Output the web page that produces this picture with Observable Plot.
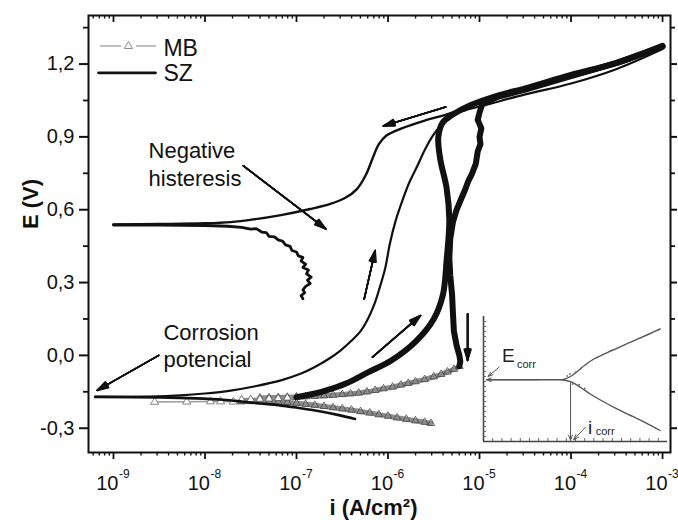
<!DOCTYPE html>
<html><head><meta charset="utf-8">
<script src="https://cdn.jsdelivr.net/npm/d3@7"></script>
<script src="https://cdn.jsdelivr.net/npm/@observablehq/plot@0.6"></script>
<style>
body{margin:0;background:#fff;}
#wrap{position:relative;width:678px;height:520px;overflow:hidden;}
</style></head><body><div id="wrap"></div>
<script>
// ---- data: [log10(i / A·cm^-2), E / V] ----
const szCath = [[-6.36,-0.262],[-6.55,-0.245],[-6.81,-0.226],[-7.0,-0.215],[-7.2,-0.205],[-7.4,-0.198],[-7.6,-0.19],[-7.8,-0.183],[-8.1,-0.177],[-8.5,-0.173],[-9.2,-0.171]];
const szAnod = [[-9.2,-0.171],[-8.6,-0.17],[-8.27,-0.165],[-8.0,-0.157],[-7.72,-0.145],[-7.45,-0.127],[-7.17,-0.103],[-6.95,-0.075],[-6.81,-0.05],[-6.65,-0.015],[-6.52,0.02],[-6.4,0.06],[-6.3,0.1],[-6.22,0.15],[-6.15,0.21],[-6.09,0.28],[-6.03,0.36],[-5.98,0.46],[-5.92,0.55],[-5.85,0.63],[-5.77,0.71],[-5.68,0.78],[-5.6,0.845],[-5.51,0.905],[-5.42,0.95],[-5.33,0.985],[-5.15,1.01],[-4.9,1.035],[-4.5,1.075],[-4.0,1.12],[-3.5,1.18],[-3.0,1.262]];
const szRev = [[-3.0,1.268],[-3.5,1.2],[-4.0,1.145],[-4.5,1.097],[-5.0,1.048],[-5.3,1.0],[-5.6,0.967],[-5.85,0.935],[-6.02,0.905],[-6.1,0.87],[-6.17,0.81],[-6.24,0.745],[-6.34,0.685],[-6.47,0.648],[-6.63,0.624],[-6.85,0.603],[-7.17,0.578],[-7.47,0.56],[-7.72,0.549],[-8.0,0.544],[-8.5,0.541],[-9.0,0.539]];
const szRevCath = [[-9.0,0.537],[-8.5,0.537],[-8.0,0.535],[-7.75,0.532],[-7.6,0.527],[-7.5,0.52],[-7.44,0.522],[-7.38,0.508],[-7.33,0.506],[-7.3,0.49],[-7.24,0.488],[-7.2,0.476],[-7.15,0.47],[-7.12,0.455],[-7.07,0.449],[-7.05,0.432],[-7.0,0.426],[-6.98,0.41],[-6.93,0.404],[-6.95,0.388],[-6.9,0.376],[-6.93,0.362],[-6.87,0.352],[-6.89,0.336],[-6.84,0.322],[-6.88,0.31],[-6.85,0.296],[-6.9,0.284],[-6.93,0.27],[-6.91,0.258],[-6.95,0.246],[-6.93,0.233]];

const mbLow = [[-8.55,-0.192],[-8.2,-0.191],[-7.94,-0.19],[-7.83,-0.19],[-7.69,-0.191],[-7.6,-0.19]];
const mbCath = [[-7.6,-0.19],[-7.5,-0.19],[-7.4,-0.19],[-7.3,-0.191],[-7.2,-0.192],[-7.1,-0.194],[-7.0,-0.197],[-6.9,-0.201],[-6.8,-0.205],[-6.7,-0.21],[-6.6,-0.215],[-6.5,-0.22],[-6.4,-0.225],[-6.3,-0.231],[-6.2,-0.237],[-6.1,-0.244],[-6.0,-0.25],[-5.9,-0.257],[-5.8,-0.263],[-5.7,-0.269],[-5.6,-0.275],[-5.53,-0.28]];
const mbFwdTail = [[-7.6,-0.182],[-7.5,-0.181],[-7.4,-0.18],[-7.3,-0.179],[-7.2,-0.177],[-7.1,-0.175],[-7.0,-0.172]];
const mbFwd = [[-7.0,-0.172],[-6.9,-0.165],[-6.7,-0.147],[-6.46,-0.116],[-6.23,-0.072],[-5.96,-0.02],[-5.69,0.06],[-5.5,0.15],[-5.4,0.25],[-5.36,0.39],[-5.33,0.56],[-5.36,0.69],[-5.43,0.81],[-5.45,0.9],[-5.4,0.96],[-5.3,0.99],[-5.1,1.03],[-4.8,1.07],[-4.5,1.1],[-4.0,1.155],[-3.5,1.205],[-3.0,1.275]];
const mbRev = [[-3.0,1.272],[-3.5,1.205],[-4.0,1.15],[-4.5,1.095],[-4.8,1.065],[-4.97,1.035],[-5.0,1.0],[-5.02,0.97],[-4.98,0.935],[-5.0,0.9],[-4.99,0.87],[-5.02,0.84],[-5.04,0.79],[-5.08,0.75],[-5.12,0.72],[-5.16,0.68],[-5.2,0.645],[-5.25,0.6],[-5.29,0.55],[-5.32,0.48],[-5.33,0.4],[-5.32,0.33],[-5.3,0.25],[-5.29,0.17],[-5.28,0.1],[-5.25,0.04],[-5.22,0.0],[-5.21,-0.025],[-5.22,-0.045]];
const mbRet = [[-5.22,-0.045],[-5.28,-0.057],[-5.35,-0.068],[-5.42,-0.078],[-5.5,-0.088],[-5.6,-0.099],[-5.7,-0.108],[-5.78,-0.115],[-5.86,-0.122],[-5.95,-0.13],[-6.05,-0.137],[-6.14,-0.144],[-6.23,-0.15],[-6.32,-0.155],[-6.41,-0.158],[-6.5,-0.161],[-6.6,-0.164],[-6.7,-0.166],[-6.8,-0.168],[-6.9,-0.17],[-7.0,-0.171],[-7.1,-0.172],[-7.2,-0.173],[-7.3,-0.174],[-7.4,-0.175]];

// annotation arrows (data coords: log10 i, E)
const arrows = [
  {x1:-5.37, y1:1.023, x2:-6.05, y2:0.945},
  {x1:-7.58, y1:0.781, x2:-6.68, y2:0.521},
  {x1:-6.26, y1:0.233, x2:-6.14, y2:0.432},
  {x1:-6.17, y1:-0.007, x2:-5.645, y2:0.164},
  {x1:-5.13, y1:0.171, x2:-5.13, y2:-0.021},
  {x1:-8.505, y1:0.0, x2:-9.178, y2:-0.144}
];
const notes = [
  {x:-8.617, y:0.699, text:"Negative\nhisteresis"},
  {x:-8.454, y:-0.048, text:"Corrosion\npotencial"}
];
const legendText = [{x:-8.454, y:1.233, text:"MB"},{x:-8.454, y:1.13, text:"SZ"}];
const legendSZ = [[-9.164,1.164],[-8.541,1.164]];
const legendMB1 = [[-9.142,1.274],[-8.923,1.274]];
const legendMB2 = [[-8.748,1.274],[-8.541,1.274]];
const legendMBMark = [[-8.836,1.274]];

// axes
const xTickExps = [-9,-8,-7,-6,-5,-4,-3];
const yTicks = [-0.3,0,0.3,0.6,0.9,1.2];
const yTickLabels = ["-0,3","0,0","0,3","0,6","0,9","1,2"];
const yMinor = [-0.15,0.15,0.45,0.75,1.05,1.35];
const xDomain = [10**-9.273, 10**-2.913];
const yDomain = [-0.4, 1.4];
const xMajor = xTickExps.map(e => 10**e);
const xMinor = [];
for (let e = -10; e <= -3; e++) for (let m = 2; m <= 9; m++) { const v = m * 10**e; if (v > xDomain[0] && v < xDomain[1]) xMinor.push(v); }

// inset schematic (its own 0..100 units)
const insetUpper = [[43,49.4],[47,51.8],[51,56],[55,61],[60,66],[70,73],[80,79.5],[90,86],[96,90]];
const insetLower = [[43,49.4],[48,47.5],[53,43],[58,38],[64,32.8],[72,26.5],[80,20.8],[90,13.5],[96,8.8]];
const insetBase = [[3,49.4],[44,49.4]];
const insetDots = [[47,54],[50,55.5],[53,58.5],[48.5,46],[52,45.5],[55,42.5],[45.5,52.5]];
const insetArrows = [
  {x1:30, y1:49.4, x2:1.5, y2:49.4},
  {x1:47.3, y1:47, x2:47.3, y2:1},
  {x1:8.5, y1:59.5, x2:2.5, y2:52},
  {x1:55.5, y1:11.5, x2:49, y2:1.5}
];
const insetLabels = [{x:10, y:63.4, t:"E", s:"corr", sx:18.2, sy:58.6},{x:56.8, y:6.2, t:"i", s:"corr", sx:61, sy:5.4}];

const FONT = "'Liberation Sans', Arial, Helvetica, sans-serif";
const X = d => 10 ** d[0], Y = d => d[1];
const fan = (data, opts) => [34, 26, 18, 10, 3].map(a => Plot.arrow(data, {...opts, headAngle: a}));

const chart = Plot.plot({
  width: 678, height: 520,
  marginLeft: 88, marginRight: 8, marginTop: 15, marginBottom: 68,
  style: {fontFamily: FONT, fontSize: "20px", color: "#111", background: "#fff"},
  x: {type: "log", domain: xDomain, axis: null},
  y: {domain: yDomain, axis: null},
  marks: [
    // MB (gray line + triangle markers; dense parts appear black)
    Plot.line(mbLow, {x: X, y: Y, stroke: "#9a9a9a", strokeWidth: 1.3}),
    Plot.dot(mbLow, {x: X, y: Y, symbol: "triangle", r: 3, stroke: "#777", fill: "#fff", strokeWidth: 0.9}),
    Plot.line(mbCath, {x: X, y: Y, stroke: "#8c8c8c", strokeWidth: 5, curve: "catmull-rom"}),
    Plot.dot(mbCath, {x: X, y: Y, symbol: "triangle", r: 2.8, stroke: "#444", fill: "none", strokeWidth: 0.8}),
    Plot.line(mbRet, {x: X, y: Y, stroke: "#8c8c8c", strokeWidth: 5, curve: "catmull-rom"}),
    Plot.dot(mbRet, {x: X, y: Y, symbol: "triangle", r: 2.8, stroke: "#444", fill: "none", strokeWidth: 0.8}),
    Plot.line(mbFwdTail, {x: X, y: Y, stroke: "#8c8c8c", strokeWidth: 3}),
    Plot.dot(mbFwdTail, {x: X, y: Y, symbol: "triangle", r: 2.8, stroke: "#555", fill: "#fff", strokeWidth: 0.8}),
    Plot.line(mbFwd, {x: X, y: Y, stroke: "#111", strokeWidth: 6, curve: "catmull-rom", strokeLinejoin: "round"}),
    Plot.line(mbRev, {x: X, y: Y, stroke: "#111", strokeWidth: 6, strokeLinejoin: "round"}),
    // SZ (black line)
    Plot.line(szCath, {x: X, y: Y, stroke: "#111", strokeWidth: 2.6, curve: "catmull-rom"}),
    Plot.line(szAnod, {x: X, y: Y, stroke: "#111", strokeWidth: 2.2, curve: "catmull-rom"}),
    Plot.line(szRev, {x: X, y: Y, stroke: "#111", strokeWidth: 2.4, curve: "catmull-rom"}),
    Plot.line(szRevCath, {x: X, y: Y, stroke: "#111", strokeWidth: 2.8, strokeLinejoin: "round"}),
    // annotation arrows
    ...fan(arrows, {x1: d => 10 ** d.x1, y1: "y1", x2: d => 10 ** d.x2, y2: "y2", stroke: "#111", strokeWidth: 1.6, headLength: 11}),
    Plot.text(notes, {x: d => 10 ** d.x, y: "y", text: "text", textAnchor: "start", lineAnchor: "bottom", fontSize: 22, lineHeight: 1.24, fill: "#111"}),
    // legend
    Plot.line(legendMB1, {x: X, y: Y, stroke: "#aaa", strokeWidth: 1.5}),
    Plot.line(legendMB2, {x: X, y: Y, stroke: "#aaa", strokeWidth: 1.5}),
    Plot.dot(legendMBMark, {x: X, y: Y, symbol: "triangle", r: 3, stroke: "#888", fill: "#fff", strokeWidth: 1}),
    Plot.line(legendSZ, {x: X, y: Y, stroke: "#111", strokeWidth: 2.8}),
    Plot.text(legendText, {x: d => 10 ** d.x, y: "y", text: "text", textAnchor: "start", lineAnchor: "bottom", fontSize: 23, fill: "#111"}),
    // frame and ticks
    Plot.frame({stroke: "#111", strokeWidth: 2}),
    Plot.axisX({ticks: xMajor, tickSize: 7, tickFormat: () => "", label: null, strokeWidth: 1.8}),
    Plot.axisX({ticks: xMinor, tickSize: 3.5, tickFormat: () => "", label: null, strokeWidth: 1.4}),
    Plot.tickX(xMajor, {x: d => d, insetBottom: 430, stroke: "#111", strokeWidth: 1.8}),
    Plot.tickX(xMinor, {x: d => d, insetBottom: 433.5, stroke: "#111", strokeWidth: 1.4}),
    Plot.axisY({ticks: yTicks, tickSize: 9, tickPadding: 5, fontSize: 20, label: null, strokeWidth: 2,
      tickFormat: d => yTickLabels[yTicks.indexOf(d)]}),
    Plot.axisY({ticks: yMinor, tickSize: 5, tickFormat: () => "", label: null, strokeWidth: 1.8}),
    Plot.axisY({anchor: "right", ticks: yTicks, tickSize: 6, tickFormat: () => "", label: null, strokeWidth: 2}),
    Plot.axisY({anchor: "right", ticks: yMinor, tickSize: 4, tickFormat: () => "", label: null, strokeWidth: 1.8}),
    // x tick labels 10^n
    Plot.text(xTickExps, {x: d => 10 ** d, text: () => "10", frameAnchor: "bottom", lineAnchor: "bottom", textAnchor: "end", dx: 5, dy: 37, fontSize: 20, fill: "#111"}),
    Plot.text(xTickExps, {x: d => 10 ** d, text: d => String(d), frameAnchor: "bottom", lineAnchor: "bottom", textAnchor: "start", dx: 5.5, dy: 25, fontSize: 12, fill: "#111"}),
    // axis titles
    Plot.text(["i (A/cm²)"], {frameAnchor: "bottom", lineAnchor: "bottom", dx: -6, dy: 62, fontSize: 22, fontWeight: "bold", fill: "#111"}),
    Plot.text(["E (V)"], {frameAnchor: "left", lineAnchor: "bottom", rotate: -90, dx: -51, dy: -5, fontSize: 22, fontWeight: "bold", fill: "#111"})
  ]
});

const inset = Plot.plot({
  width: 196, height: 137, marginLeft: 6, marginRight: 6, marginTop: 6, marginBottom: 6,
  style: {fontFamily: FONT, background: "transparent", overflow: "visible", color: "#333"},
  x: {domain: [0, 100], axis: null},
  y: {domain: [0, 100], axis: null},
  marks: [
    Plot.ruleX([0], {y1: 0, y2: 100, stroke: "#444", strokeWidth: 1.6}),
    Plot.ruleY([0], {x1: 0, x2: 100, stroke: "#444", strokeWidth: 1.6}),
    Plot.tickY(d3.range(4, 100, 4), {y: d => d, insetRight: 181, stroke: "#666", strokeWidth: 1}),
    Plot.tickX(d3.range(5, 100, 5), {x: d => d, insetTop: 122, stroke: "#666", strokeWidth: 1}),
    Plot.line(insetBase, {x: d => d[0], y: d => d[1], stroke: "#555", strokeWidth: 1.4}),
    Plot.line(insetUpper, {x: d => d[0], y: d => d[1], stroke: "#555", strokeWidth: 1.4, curve: "catmull-rom"}),
    Plot.line(insetLower, {x: d => d[0], y: d => d[1], stroke: "#555", strokeWidth: 1.4, curve: "catmull-rom"}),
    Plot.dot(insetDots, {x: d => d[0], y: d => d[1], r: 0.9, fill: "#666"}),
    Plot.arrow(insetArrows, {x1: "x1", y1: "y1", x2: "x2", y2: "y2", stroke: "#555", strokeWidth: 1, headLength: 8, headAngle: 40}),
    Plot.text(insetLabels, {x: "x", y: "y", text: "t", textAnchor: "start", lineAnchor: "bottom", fontSize: 19, fill: "#222"}),
    Plot.text(insetLabels, {x: "sx", y: "sy", text: "s", textAnchor: "start", lineAnchor: "bottom", fontSize: 11, fill: "#222"})
  ]
});
inset.style.position = "absolute";
inset.style.left = "477px";
inset.style.top = "310px";

const wrap = document.getElementById("wrap");
wrap.appendChild(chart);
wrap.appendChild(inset);
</script></body></html>
